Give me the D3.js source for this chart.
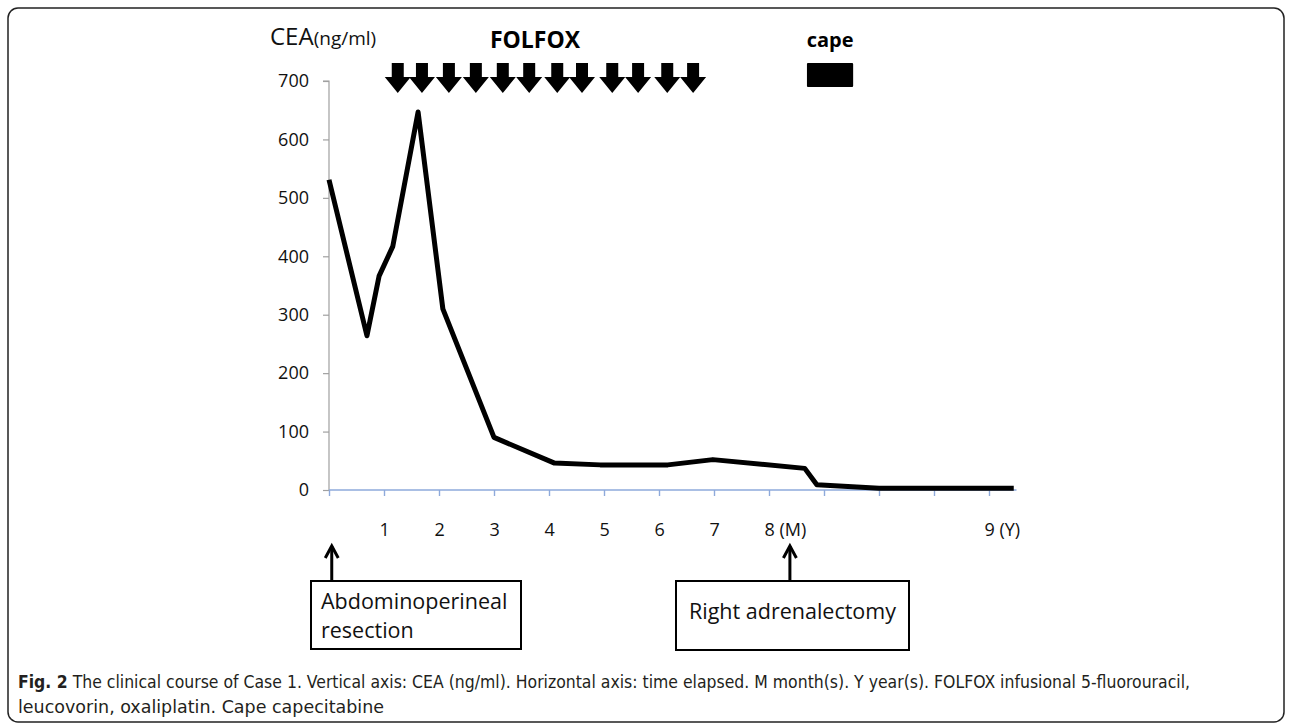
<!DOCTYPE html>
<html>
<head>
<meta charset="utf-8">
<script src="https://cdn.jsdelivr.net/npm/d3@7"></script>
<style>
  html, body { margin: 0; padding: 0; background: #fff; }
  svg { display: block; }
</style>
</head>
<body>
<div id="chart"></div>
<script>
// CEA course chart - clinical course of Case 1

// x positions are in tick units of the original category axis (0..12)
const ceaTimes = [0, 0.69, 0.91, 1.16, 1.62, 2.07, 3.0, 4.1, 4.93, 6.16, 6.98, 8.65, 8.87, 10.0, 12.45];
const ceaValues = [531, 264, 366, 417, 647, 310, 90, 46, 43, 43, 52, 37, 9, 3, 3];

const yTicks = [0, 100, 200, 300, 400, 500, 600, 700];
const xTickPositions = [0, 1, 2, 3, 4, 5, 6, 7, 8, 9, 10, 11, 12];
const xTickLabels = { 1: '1', 2: '2', 3: '3', 4: '4', 5: '5', 6: '6', 7: '7', 8: '8 (M)', 12: '9 (Y)' };

const folfoxDoses = [1.25, 1.69, 2.18, 2.67, 3.16, 3.64, 4.15, 4.60, 5.15, 5.62, 6.15, 6.62];
const capeSpan = [8.69, 9.53];

const surgeryTimes = [0.05, 8.38];
const surgeryLabels = [['Abdominoperineal', 'resection'], ['Right adrenalectomy']];

const captionBold = 'Fig. 2';
const captionLines = [
  ' The clinical course of Case 1. Vertical axis: CEA (ng/ml). Horizontal axis: time elapsed. M month(s). Y year(s). FOLFOX infusional 5-fluorouracil,',
  'leucovorin, oxaliplatin. Cape capecitabine'
];

const W = 1292, H = 724;
const FONT = '"Open Sans", "Noto Sans", sans-serif';
const CAPTION_FONT = '"DejaVu Sans Condensed", "Liberation Sans Narrow", "DejaVu Sans", sans-serif';

const svg = d3.select('#chart')
  .append('svg')
  .attr('width', W)
  .attr('height', H)
  .attr('viewBox', `0 0 ${W} ${H}`);

// outer frame
svg.append('rect')
  .attr('x', 8).attr('y', 8)
  .attr('width', 1276).attr('height', 714)
  .attr('rx', 10).attr('ry', 10)
  .attr('fill', 'none')
  .attr('stroke', '#222')
  .attr('stroke-width', 1.5);

// scales
const x = d3.scaleLinear().domain([0, 12]).range([329, 989]);
const y = d3.scaleLinear().domain([0, 700]).range([490, 81]);

// y axis
const yAxis = svg.append('g')
  .attr('transform', `translate(${x(0)},0)`)
  .call(d3.axisLeft(y).tickValues(yTicks).tickSize(6).tickPadding(14));
yAxis.select('.domain').attr('stroke', '#a0a0a0').attr('stroke-width', 1.2)
  .attr('d', `M-6,${y(700)}H0V${y(0)}`);
yAxis.selectAll('.tick line').attr('stroke', '#a0a0a0').attr('stroke-width', 1.2);
yAxis.selectAll('.tick text')
  .attr('font-family', FONT)
  .attr('font-size', 18)
  .attr('fill', '#111');

// x axis
const xAxis = svg.append('g')
  .attr('transform', `translate(0,${y(0)})`)
  .call(d3.axisBottom(x)
    .tickValues(xTickPositions)
    .tickSize(6)
    .tickPadding(27)
    .tickFormat(d => xTickLabels[d] || ''));
xAxis.select('.domain').attr('stroke', '#8eaadb').attr('stroke-width', 1.4)
  .attr('d', `M${x(0)},0H${x(12.5)}`);
xAxis.selectAll('.tick line').attr('stroke', '#8eaadb').attr('stroke-width', 1.4);
xAxis.selectAll('.tick text')
  .attr('font-family', FONT)
  .attr('font-size', 18)
  .attr('fill', '#111')
  .attr('text-anchor', 'start')
  .attr('dx', -5);

// CEA line
const line = d3.line()
  .x((d, i) => x(ceaTimes[i]))
  .y(d => y(d));

svg.append('path')
  .datum(ceaValues)
  .attr('d', line)
  .attr('fill', 'none')
  .attr('stroke', '#000')
  .attr('stroke-width', 5)
  .attr('stroke-linejoin', 'round');

// axis title
const title = svg.append('text')
  .attr('x', 270)
  .attr('y', 45)
  .attr('font-family', FONT)
  .attr('fill', '#111');
title.append('tspan').attr('font-size', 24).text('CEA');
title.append('tspan').attr('font-size', 19).text('(ng/ml)');

// FOLFOX label and dose arrows
svg.append('text')
  .attr('x', 535)
  .attr('y', 48)
  .attr('text-anchor', 'middle')
  .attr('font-family', FONT)
  .attr('font-weight', 'bold')
  .attr('font-size', 23)
  .attr('fill', '#000')
  .text('FOLFOX');

const arrowTop = 63, arrowNeck = 77, arrowTip = 93;
svg.append('g')
  .selectAll('path')
  .data(folfoxDoses)
  .enter()
  .append('path')
  .attr('d', d => {
    const cx = x(d);
    return `M${cx - 6},${arrowTop}H${cx + 6}V${arrowNeck}H${cx + 13}L${cx},${arrowTip}L${cx - 13},${arrowNeck}H${cx - 6}Z`;
  })
  .attr('fill', '#000');

// capecitabine
svg.append('text')
  .attr('x', (x(capeSpan[0]) + x(capeSpan[1])) / 2)
  .attr('y', 47)
  .attr('text-anchor', 'middle')
  .attr('font-family', FONT)
  .attr('font-weight', 'bold')
  .attr('font-size', 20)
  .attr('fill', '#000')
  .text('cape');

svg.append('rect')
  .attr('x', x(capeSpan[0]))
  .attr('y', 63)
  .attr('width', x(capeSpan[1]) - x(capeSpan[0]))
  .attr('height', 24)
  .attr('rx', 1)
  .attr('fill', '#000');

// surgery annotations
const boxes = [
  { x0: 311, x1: 521, y0: 581, y1: 649 },
  { x0: 676, x1: 909, y0: 581, y1: 650 }
];

surgeryTimes.forEach((t, i) => {
  const cx = x(t);
  const g = svg.append('g');
  g.append('line')
    .attr('x1', cx).attr('x2', cx)
    .attr('y1', 546).attr('y2', boxes[i].y0)
    .attr('stroke', '#000').attr('stroke-width', 3);
  g.append('path')
    .attr('d', `M${cx - 6.5},${558}L${cx},${546}L${cx + 6.5},${558}`)
    .attr('fill', 'none')
    .attr('stroke', '#000')
    .attr('stroke-width', 3);
  const b = boxes[i];
  g.append('rect')
    .attr('x', b.x0).attr('y', b.y0)
    .attr('width', b.x1 - b.x0).attr('height', b.y1 - b.y0)
    .attr('fill', '#fff')
    .attr('stroke', '#000')
    .attr('stroke-width', 2);
  const lines = surgeryLabels[i];
  lines.forEach((txt, j) => {
    const single = lines.length === 1;
    g.append('text')
      .attr('x', single ? (b.x0 + b.x1) / 2 : b.x0 + 10)
      .attr('y', single ? 619 : 609 + j * 29)
      .attr('text-anchor', single ? 'middle' : 'start')
      .attr('font-family', FONT)
      .attr('font-size', 21.5)
      .attr('fill', '#111')
      .text(txt);
  });
});

// caption
const cap1 = svg.append('text')
  .attr('x', 18)
  .attr('y', 688)
  .attr('font-family', CAPTION_FONT)
  .attr('font-size', 17)
  .attr('fill', '#231f20')
  .attr('textLength', 1172)
  .attr('lengthAdjust', 'spacingAndGlyphs');
cap1.append('tspan').attr('font-weight', 'bold').text(captionBold);
cap1.append('tspan').text(captionLines[0]);

svg.append('text')
  .attr('x', 18)
  .attr('y', 713)
  .attr('font-family', CAPTION_FONT)
  .attr('font-size', 17)
  .attr('fill', '#231f20')
  .attr('textLength', 366)
  .attr('lengthAdjust', 'spacingAndGlyphs')
  .text(captionLines[1]);
</script>
</body>
</html>
